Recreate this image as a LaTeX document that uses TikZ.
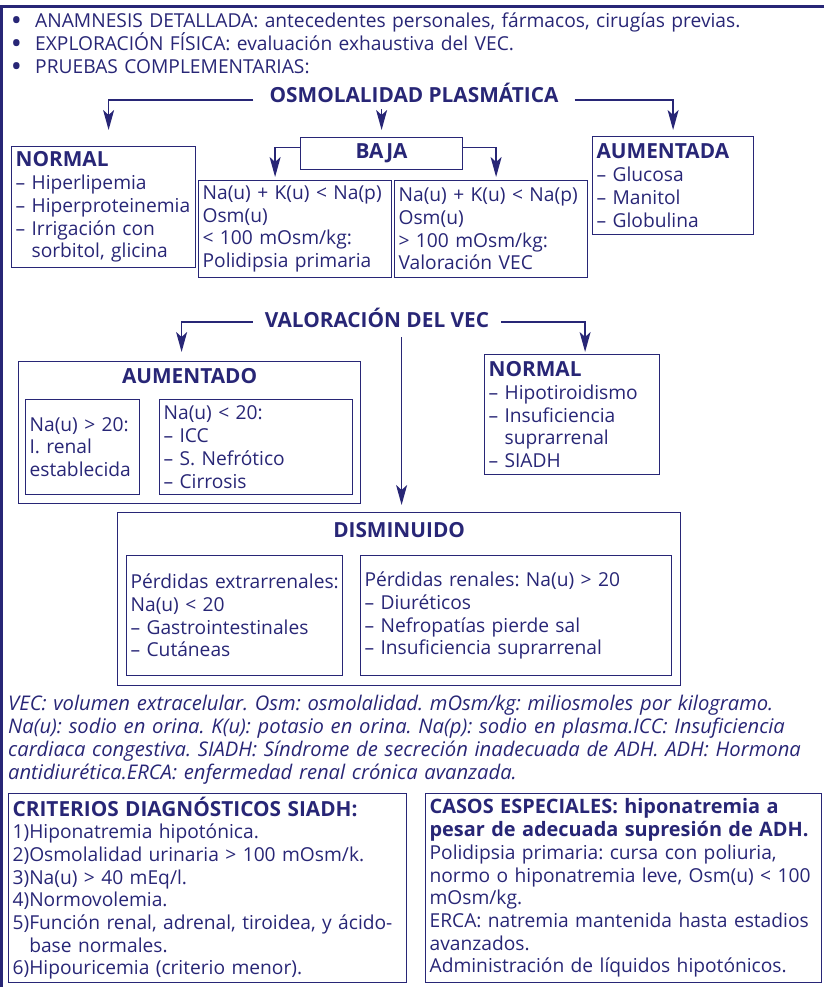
\documentclass[tikz,border=0pt]{standalone}
\usepackage{fontspec}
\setmainfont{Open Sans}
\usetikzlibrary{arrows.meta, positioning}
\definecolor{navy}{RGB}{40,38,118}

\newcommand{\bul}{\makebox[23pt][l]{\raisebox{-1pt}{\bfseries\fontsize{23}{22}\selectfont\textbullet}}}
\newcommand{\ind}{\phantom{– }}
\newcommand{\nb}[1]{\mbox{#1}}
\newcommand{\boxhead}[2][20.8]{\mbox{\fontsize{#1}{22.7}\selectfont\bfseries #2}}
\frenchspacing

\begin{document}
\begin{tikzpicture}[x=1pt, y=-1pt,
    every node/.style={text=navy, font=\fontsize{19.2}{22.7}\selectfont},
    box/.style={draw=navy, line width=1.2pt, inner xsep=4pt, inner ysep=0pt, anchor=north west, align=left},
    sz/.style 2 args={minimum width=#1, minimum height=#2, text width=#1-6pt},
    head/.style={font=\fontsize{20.8}{22.7}\selectfont\bfseries, inner xsep=16pt, inner ysep=6pt},
    title/.style={font=\fontsize{20.8}{22.7}\selectfont\bfseries, inner sep=0pt},
    arrow/.style={draw=navy, line width=1.5pt, -{Stealth[length=20pt, width=11pt, inset=5pt]}}
]
\useasboundingbox (0,0) rectangle (824,987);

% frame
\draw[navy, line width=3pt] (824,6.5) -- (1.5,6.5) -- (1.5,987);

% anamnesis
\node[anchor=base west, inner sep=0pt, text width=800pt, align=left] (anam) at (12,28)
  {\bul ANAMNESIS DETALLADA: antecedentes personales, fármacos, cirugías previas.\\
   \bul EXPLORACIÓN FÍSICA: evaluación exhaustiva del VEC.\\
   \bul PRUEBAS COMPLEMENTARIAS:};

% osmolalidad plasmatica
\node[head, anchor=base] (osm) at (414,103) {OSMOLALIDAD PLASMÁTICA};

\node[box, sz={182pt}{121pt}] (normL) at (11,146)
  {\boxhead{NORMAL}\\– Hiperlipemia\\\nb{– Hiperproteinemia}\\– Irrigación con\\\ind sorbitol, glicina};
\node[box, align=center, sz={160pt}{32pt}, font=\fontsize{20.8}{22.7}\selectfont\bfseries] (baja) at (300,137) {BAJA};
\node[box, sz={191pt}{97pt}] (na1) at (198,180)
  {\nb{Na(u) + K(u) < Na(p)}\\Osm(u)\\< 100 mOsm/kg:\\\nb{Polidipsia primaria}};
\node[box, sz={191pt}{97pt}] (na2) at (394,180)
  {\nb{Na(u) + K(u) < Na(p)}\\Osm(u)\\> 100 mOsm/kg:\\Valoración VEC};
\node[box, sz={159pt}{98pt}] (aumA) at (592,136)
  {\boxhead{AUMENTADA}\\– Glucosa\\– Manitol\\– Globulina};

\draw[arrow, shorten >=16pt] ([yshift=3pt]osm.base west) -| ([xshift=5pt]normL.north);
\draw[arrow, shorten >=7pt] (osm.south -| baja.north) -- (baja.north);
\draw[arrow, shorten >=6pt] ([yshift=3pt]osm.base east) -| (aumA.north);
\draw[arrow, shorten >=3pt] ([yshift=6pt]baja.west) -| ([xshift=-20pt]na1.north);
\draw[arrow, shorten >=3pt] ([yshift=6pt]baja.east) -| ([xshift=5pt]na2.north);

% valoracion del VEC
\node[head, anchor=base, inner xsep=12pt] (vec) at (377,327) {VALORACIÓN DEL VEC};

\node[box, sz={340pt}{142pt}] (aumO) at (18,361) {};
\node[title, below=7pt of aumO.north] (aumT) {AUMENTADO};
\node[box, sz={112pt}{95pt}] (aum1) at (25,399)
  {Na(u) > 20:\\I. renal\\establecida};
\node[box, sz={191pt}{95pt}] (aum2) at (159,399)
  {Na(u) < 20:\\– ICC\\– S. Nefrótico\\– Cirrosis};
\node[box, sz={173pt}{120pt}] (normR) at (484,354)
  {\boxhead{NORMAL}\\– Hipotiroidismo\\– Insuficiencia\\\ind suprarrenal\\– SIADH};

\node[box, sz={561pt}{173pt}] (dism) at (117,512) {};
\node[title, below=10pt of dism.north] (dismT) {DISMINUIDO};
\node[box, sz={214pt}{120pt}] (dism1) at (126,555)
  {\nb{Pérdidas extrarrenales:}\\Na(u) < 20\\\nb{– Gastrointestinales}\\– Cutáneas};
\node[box, sz={309pt}{120pt}] (dism2) at (360,555)
  {\nb{Pérdidas renales: Na(u) > 20}\\– Diuréticos\\\nb{– Nefropatías pierde sal}\\\nb{– Insuficiencia suprarrenal}};

\draw[arrow, shorten >=9pt] ([yshift=5pt]vec.base west) -| ([xshift=-8pt]aumO.north);
\draw[arrow, shorten >=2pt] ([yshift=5pt]vec.base east) -| ([xshift=13pt]normR.north);
\draw[arrow, shorten <=4pt, shorten >=7pt] ([xshift=2.5pt]dism.north |- vec.south) -- ([xshift=2.5pt]dism.north);

% abreviaturas
\node[anchor=base west, inner sep=0pt, text width=816pt, align=left,
      font=\fontsize{20.2}{23}\selectfont\itshape] (note) at (8,710)
  {\nb{VEC: volumen extracelular. Osm: osmolalidad. mOsm/kg: miliosmoles por kilogramo.}\\
   \nb{Na(u): sodio en orina. K(u): potasio en orina. Na(p): sodio en plasma.ICC: Insuficiencia}\\
   \nb{cardiaca congestiva. SIADH: Síndrome de secreción inadecuada de ADH. ADH: Hormona}\\
   antidiurética.ERCA: enfermedad renal crónica avanzada.};

% criterios y casos especiales
\node[box, sz={396pt}{189pt}] (crit) at (8,793)
  {\boxhead{CRITERIOS DIAGNÓSTICOS SIADH:}\\1)Hiponatremia hipotónica.\\\nb{2)Osmolalidad urinaria > 100 mOsm/k.}\\3)Na(u) > 40 mEq/l.\\4)Normovolemia.\\\nb{5)Función renal, adrenal, tiroidea, y ácido-}\\\phantom{5)}base normales.\\6)Hipouricemia (criterio menor).};
\node[box, sz={394pt}{189pt}] (casos) at (425,793)
  {\boxhead[19.9]{CASOS ESPECIALES: hiponatremia a}\\\boxhead[19.9]{pesar de adecuada supresión de ADH.}\\\nb{Polidipsia primaria: cursa con poliuria,}\\\nb{normo o hiponatremia leve, Osm(u) < 100}\\mOsm/kg.\\\nb{ERCA: natremia mantenida hasta estadios}\\avanzados.\\\nb{Administración de líquidos hipotónicos.}};
\end{tikzpicture}
\end{document}
